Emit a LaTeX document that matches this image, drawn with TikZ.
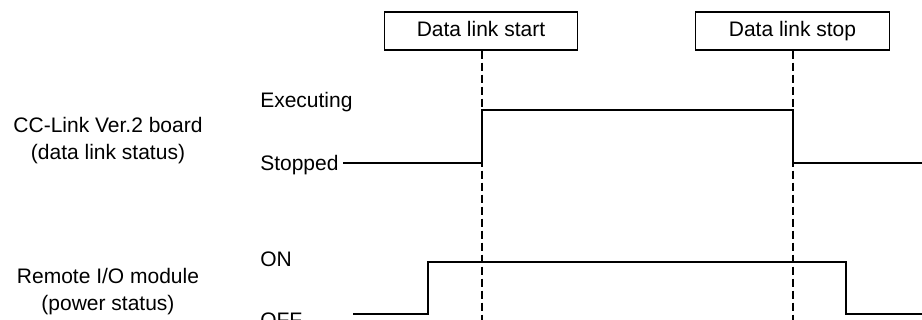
\documentclass[tikz,border=0pt]{standalone}
\usepackage{fontspec}
\setmainfont{Liberation Sans}
\usetikzlibrary{positioning,calc}

\begin{document}
\begin{tikzpicture}[
    x=0.75pt, y=-0.75pt,
    txt/.style={inner sep=0pt, font=\fontsize{15.75}{20.25}\selectfont},
    event/.style={txt, rectangle, draw, line width=0.9pt, minimum width=145pt, minimum height=28.5pt, text height=11.5pt, text depth=3.5pt},
    level/.style={txt, anchor=west},
    unit/.style={txt, align=center},
    signal/.style={line width=1pt},
    marker/.style={line width=0.8pt, dash pattern=on 6pt off 3pt}
]
    \useasboundingbox (0,0) rectangle (922,320);

    \node[event] (start) at (481,31) {Data link start};
    \node[event] (stop) at (792.5,31) {Data link stop};
    \coordinate (startend) at (482,320);
    \coordinate (stopend) at (793,320);

    \node[unit] (board) at (108,141) {CC-Link Ver.2 board\\(data link status)};
    \node[unit] (remote) at (108,292) {Remote I/O module\\(power status)};

    \node[level] (exec) at (260,102) {Executing};
    \node[level] (stopped) at (260,165) {Stopped};
    \node[level] (on) at (260,259) {ON};
    \node[level] (off) at (260,320) {OFF};

    \draw[marker] (start.south -| startend) -- (startend);
    \draw[marker] (stop.south -| stopend) -- (stopend);

    \draw[signal] (343,163) -- (482,163) -- (482,110) -- (793,110) -- (793,163) -- (922,163);
    \draw[signal] (353,314) -- (428,314) -- (428,262) -- (846,262) -- (846,314) -- (922,314);
\end{tikzpicture}
\end{document}
